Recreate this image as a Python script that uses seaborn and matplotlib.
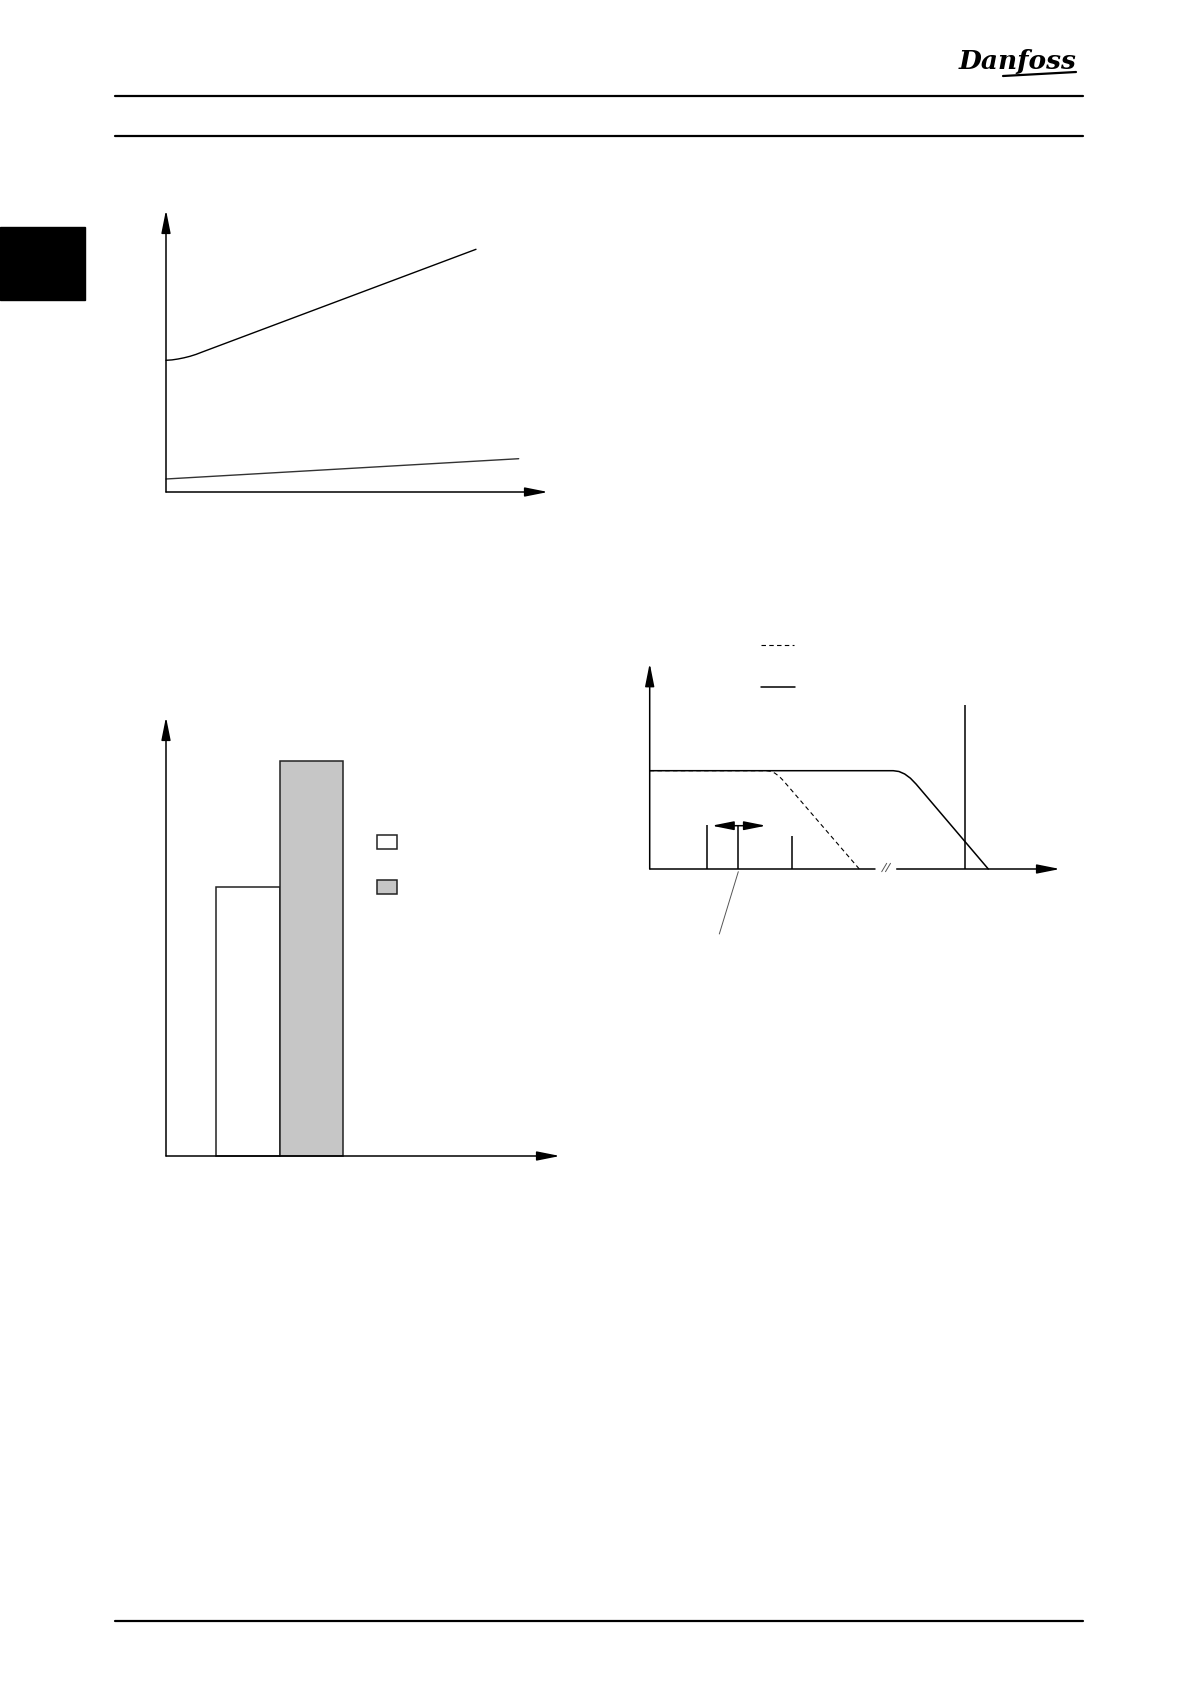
import matplotlib
matplotlib.use("Agg")
import matplotlib.pyplot as plt
import seaborn as sns
import pandas as pd
from matplotlib.patches import Rectangle

# page size in pixels
W, H = 1191, 1684

# chart 1 : two curves (values in px units from the axis origin)
curve_top_x = [0, 6, 12, 18, 24, 30, 36, 310]
curve_top_y = [131.7, 132.1, 133.0, 134.2, 135.7, 137.6, 139.9, 242.7]
curve_low_x = [0, 352.7]
curve_low_y = [13.0, 33.3]

# chart 2 : two bars
bar_pos = [81.8, 145.3]
bar_height = [268.7, 394.7]
bar_names = ["a", "b"]
bar_colors = {"a": "white", "b": "#c6c6c6"}

# chart 3 : two derating curves
solid_x = [0, 243.6, 249.3, 255.0, 260.7, 266.4, 338.6]
solid_y = [98.3, 98.3, 97.5, 95.0, 90.8, 84.9, 0]
dash_x = [0, 117, 121.1, 125.2, 129.4, 133.6, 209.6]
dash_y = [98.3, 98.3, 97.7, 95.8, 92.7, 88.4, 0]
mark_x = [57.0, 88.6, 142.6, 315.6]
mark_h = [44.0, 43.3, 33.0, 164.0]

sns.set_style("white")
fig = plt.figure(figsize=(W / 100, H / 100), dpi=100)
fig.patch.set_facecolor("white")


def px_axes(left, top, right, bottom):
    ax = fig.add_axes([left / W, 1 - bottom / H, (right - left) / W, (bottom - top) / H])
    ax.set_axis_off()
    return ax


def arrow(ax, x0, y0, x1, y1, style="-|>", ms=20):
    ax.annotate("", xy=(x1, y1), xytext=(x0, y0), annotation_clip=False,
                arrowprops=dict(arrowstyle=style + ",head_length=0.7,head_width=0.14",
                                color="k", lw=1.1, shrinkA=0, shrinkB=0, mutation_scale=ms))


# page decoration
page = fig.add_axes([0, 0, 1, 1])
page.set_xlim(0, W)
page.set_ylim(H, 0)
page.set_axis_off()
page.plot([114.5, 1082.6], [96, 96], color="k", lw=1.6)
page.plot([114.5, 1082.6], [136, 136], color="k", lw=1.6)
page.plot([114.5, 1082.6], [1620.7, 1620.7], color="k", lw=1.6)
page.add_patch(Rectangle((0, 226.7), 85, 73.3, color="k"))
page.text(1018, 62, "Danfoss", ha="center", va="center", fontsize=19, color="k",
          family="DejaVu Serif", style="italic", weight="bold")
page.plot([1003, 1076], [76, 72], color="k", lw=1.6)

# chart 1
ax1 = px_axes(166, 210, 548, 492)
ax1.set_xlim(0, 382)
ax1.set_ylim(0, 282)
sns.lineplot(x=curve_top_x, y=curve_top_y, ax=ax1, color="k", lw=1.0, clip_on=False)
sns.lineplot(x=curve_low_x, y=curve_low_y, ax=ax1, color="#333333", lw=1.0, clip_on=False)
arrow(ax1, 0, 0, 382, 0)
arrow(ax1, 0, 0, 0, 282)

# chart 2
ax2 = px_axes(166, 717, 560, 1156)
df_bar = pd.DataFrame({"pos": bar_pos, "h": bar_height, "name": bar_names})
sns.barplot(data=df_bar, x="pos", y="h", hue="name", palette=bar_colors, native_scale=True,
            width=1.0, edgecolor="#222222", linewidth=1.1, legend=False, ax=ax2, clip_on=False)
ax2.set_xlim(0, 394)
ax2.set_ylim(0, 439)
ax2.set_axis_off()
ax2.add_patch(Rectangle((211, 306.7), 20, 14, facecolor="white", edgecolor="#222222", lw=1.1, clip_on=False))
ax2.add_patch(Rectangle((211, 261.7), 20, 14, facecolor="#c6c6c6", edgecolor="#222222", lw=1.1, clip_on=False))
arrow(ax2, 0, 0, 394, 0)
arrow(ax2, 0, 0, 0, 439)

# chart 3
ax3 = px_axes(649.7, 663.3, 1060, 869)
ax3.set_xlim(0, 410.3)
ax3.set_ylim(0, 205.7)
sns.lineplot(x=solid_x, y=solid_y, ax=ax3, color="k", lw=1.1, clip_on=False)
sns.lineplot(x=dash_x, y=dash_y, ax=ax3, color="k", lw=0.8, linestyle=(0, (4, 3)), clip_on=False)
ax3.vlines(mark_x, 0, mark_h, color="k", lw=1.1, clip_on=False)
ax3.plot([0, 225.3], [0, 0], color="k", lw=1.1, clip_on=False)
arrow(ax3, 247, 0, 410.3, 0)
arrow(ax3, 0, 0, 0, 205.7)
# axis break
ax3.plot([232, 237], [-2.7, 5.7], color="#555555", lw=0.7, clip_on=False)
ax3.plot([235.8, 240.8], [-2.7, 5.7], color="#555555", lw=0.7, clip_on=False)
# adjustment range arrow and leader
arrow(ax3, 62, 43.3, 116.3, 43.3, style="<|-|>", ms=19)
ax3.plot([88.6, 69.6], [-2.7, -65], color="#555555", lw=0.7, clip_on=False)
# legend keys
ax3.plot([111.3, 144.6], [224, 224], color="k", lw=0.8, linestyle=(0, (4, 3)), clip_on=False)
ax3.plot([111.3, 145.3], [181.7, 181.7], color="k", lw=1.1, clip_on=False)

fig.savefig("out.png", dpi=100, facecolor="white")
